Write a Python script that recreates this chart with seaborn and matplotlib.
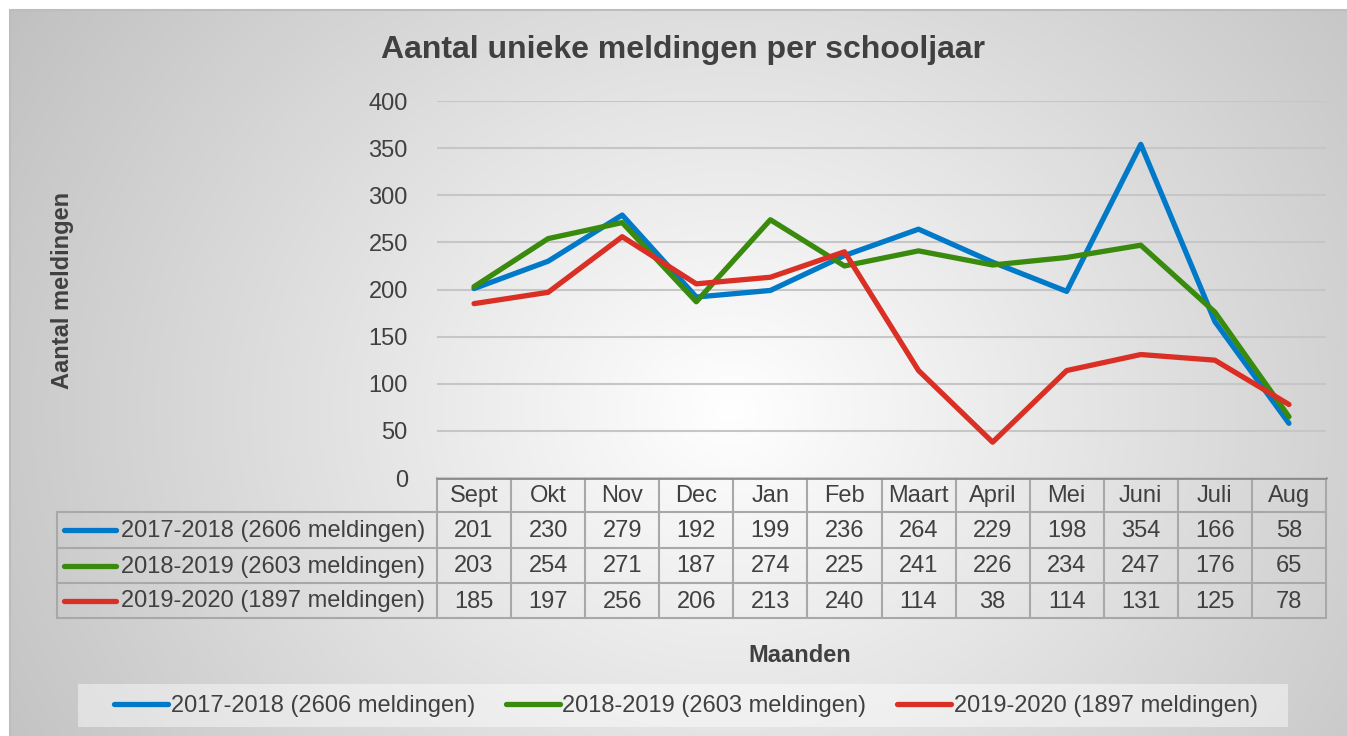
import numpy as np
import pandas as pd
import seaborn as sns
import matplotlib.pyplot as plt

# data
maanden = ["Sept", "Okt", "Nov", "Dec", "Jan", "Feb", "Maart", "April", "Mei", "Juni", "Juli", "Aug"]
seizoenen = ["2017-2018 (2606 meldingen)", "2018-2019 (2603 meldingen)", "2019-2020 (1897 meldingen)"]
meldingen_1718 = [201, 230, 279, 192, 199, 236, 264, 229, 198, 354, 166, 58]
meldingen_1819 = [203, 254, 271, 187, 274, 225, 241, 226, 234, 247, 176, 65]
meldingen_1920 = [185, 197, 256, 206, 213, 240, 114, 38, 114, 131, 125, 78]
kleuren = ["#0079c8", "#3a8a0e", "#da2f24"]

reeksen = [meldingen_1718, meldingen_1819, meldingen_1920]
df = pd.DataFrame({
    "maand": maanden * 3,
    "schooljaar": np.repeat(seizoenen, len(maanden)),
    "aantal": meldingen_1718 + meldingen_1819 + meldingen_1920,
})

sns.set_style("white")
plt.rcParams["font.family"] = ["Liberation Sans", "DejaVu Sans"]
tekst = "#404040"

W, H = 1347, 736
fig = plt.figure(figsize=(W / 100, H / 100), dpi=100)

# background canvas in pixel coordinates with a radial grey gradient
bg = fig.add_axes([0, 0, 1, 1], zorder=0)
bg.set_xlim(0, W)
bg.set_ylim(H, 0)
bg.axis("off")
yy, xx = np.mgrid[10:H, 10:W]
d = np.hypot(xx - 730, (yy - 410) * 1.15)
grad = np.clip(1 - 0.235 * d / 820, 0.74, 1)
bg.imshow(np.dstack([grad] * 3), extent=(10, W, H, 10),
          aspect="auto", interpolation="bilinear")
bg.plot([10, W], [10, 10], color="#bdbdbd", lw=1.5)
bg.plot([10, 10], [10, H], color="#bdbdbd", lw=1.5)

# main plot area
ax = fig.add_axes([437 / W, 1 - 478 / H, 889 / W, 377 / H], zorder=2)
ax.patch.set_alpha(0)
sns.lineplot(data=df, x="maand", y="aantal", hue="schooljaar", palette=kleuren,
             lw=3.8, sort=False, ax=ax, zorder=3)
for ln in ax.lines:
    ln.set_solid_joinstyle("round")
    ln.set_solid_capstyle("round")
handles, labels = ax.get_legend_handles_labels()
ax.get_legend().remove()
for h in handles:
    h.set_solid_capstyle("round")
ax.set_xlim(-0.5, len(maanden) - 0.5)
ax.set_ylim(0, 400)
ax.set_yticks(range(0, 401, 50))
ax.set_xticks([])
ax.set_xlabel("")
ax.set_ylabel("")
ax.yaxis.grid(True, color="#c6c6c6", lw=1.5)
ax.set_axisbelow(True)
ax.tick_params(axis="y", length=0, pad=21, labelsize=17, labelcolor=tekst)
for s in ax.spines.values():
    s.set_visible(False)

# titles
bg.text(683, 50, "Aantal unieke meldingen per schooljaar", ha="center", va="center",
        fontsize=23, fontweight="bold", color=tekst)
bg.text(62, 290, "Aantal meldingen", rotation=90, ha="center", va="center",
        fontsize=17, fontweight="bold", color=tekst)
bg.text(800, 656, "Maanden", ha="center", va="center",
        fontsize=17, fontweight="bold", color=tekst)

# data table below the axis
col_x = [ax.transData.transform((i - 0.5, 0))[0] for i in range(len(maanden) + 1)]
rij_y = [478, 512, 548, 583, 618]
links = 57
lijn = "#a8a8a8"
for x in col_x:
    bg.plot([x, x], [rij_y[0], rij_y[-1]], color=lijn, lw=1.5, zorder=3)
bg.plot([links, links], [rij_y[1], rij_y[-1]], color=lijn, lw=1.5, zorder=3)
for y in rij_y[1:]:
    bg.plot([links, col_x[-1]], [y, y], color=lijn, lw=1.5, zorder=3)
bg.plot([col_x[0], col_x[-1]], [rij_y[0], rij_y[0]], color="#8a8a8a", lw=2, zorder=4)

for i, m in enumerate(maanden):
    xc = (col_x[i] + col_x[i + 1]) / 2
    bg.text(xc, (rij_y[0] + rij_y[1]) / 2 + 1, m, ha="center", va="center",
            fontsize=17, color=tekst)
for r, (naam, waarden, kleur) in enumerate(zip(seizoenen, reeksen, kleuren)):
    yc = (rij_y[r + 1] + rij_y[r + 2]) / 2 + 1
    bg.plot([64, 116], [yc - 1, yc - 1], color=kleur, lw=3.8, solid_capstyle="round", zorder=4)
    bg.text(121, yc, naam, ha="left", va="center", fontsize=17, color=tekst)
    for i, v in enumerate(waarden):
        xc = (col_x[i] + col_x[i + 1]) / 2
        bg.text(xc, yc, str(v), ha="center", va="center", fontsize=17, color=tekst)

# legend at the bottom
bg.add_patch(plt.Rectangle((78, 684), 1210, 43, color="white", alpha=0.45, lw=0, zorder=2))
fig.legend(handles, labels, loc="center", bbox_to_anchor=(686 / W, 1 - 706 / H), ncol=3,
           frameon=False, fontsize=17, handlelength=2.3, handletextpad=0.1,
           columnspacing=1.3, labelcolor=tekst)

fig.savefig("out.png", dpi=100)
